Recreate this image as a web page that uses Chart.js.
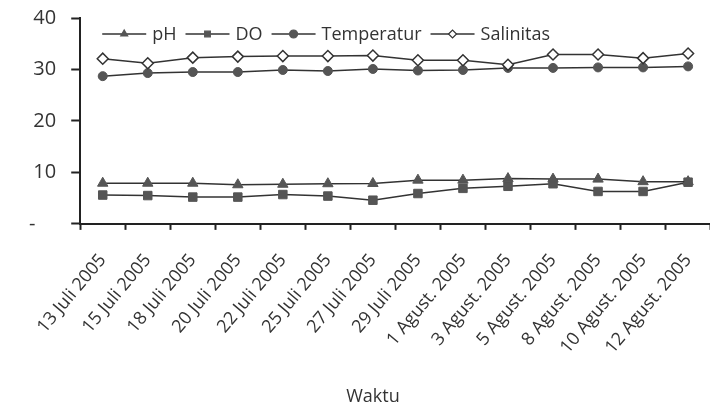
<!DOCTYPE html>
<html>
<head>
<meta charset="utf-8">
<script src="https://cdn.jsdelivr.net/npm/chart.js@4.4.0/dist/chart.umd.min.js"></script>
<style>
  html, body { margin: 0; padding: 0; background: #fff; overflow: hidden; }
  #wrap { width: 725px; height: 411px; position: relative; }
</style>
</head>
<body>
<div id="wrap"><canvas id="kualitasAir"></canvas></div>
<script>
var tanggal = ["13 Juli 2005", "15 Juli 2005", "18 Juli 2005", "20 Juli 2005", "22 Juli 2005",
  "25 Juli 2005", "27 Juli 2005", "29 Juli 2005", "1 Agust. 2005", "3 Agust. 2005",
  "5 Agust. 2005", "8 Agust. 2005", "10 Agust. 2005", "12 Agust. 2005"];
var dataPH = [7.9, 7.9, 7.9, 7.6, 7.7, 7.8, 7.85, 8.5, 8.5, 8.8, 8.7, 8.7, 8.2, 8.2];
var dataDO = [5.6, 5.5, 5.2, 5.2, 5.7, 5.4, 4.6, 5.9, 6.9, 7.3, 7.8, 6.3, 6.3, 8.1];
var dataTemperatur = [28.7, 29.3, 29.5, 29.5, 29.9, 29.7, 30.1, 29.8, 29.9, 30.3, 30.3, 30.4, 30.4, 30.6];
var dataSalinitas = [32.1, 31.2, 32.3, 32.5, 32.6, 32.6, 32.7, 31.8, 31.8, 30.9, 32.9, 32.9, 32.2, 33.1];
var judulX = "Waktu";

var garis = "#333333";
var isi = "#555555";
var fontNama = "'Open Sans', 'DejaVu Sans', sans-serif";

// legend drawn inside the plot area, line + marker like the original
var legendaDalam = {
  id: 'legendaDalam',
  afterDraw: function (chart) {
    var ctx = chart.ctx;
    var area = chart.chartArea;
    var x = area.left + 22;
    var y = area.top + 16;
    ctx.save();
    ctx.font = "18px " + fontNama;
    ctx.textBaseline = "middle";
    chart.data.datasets.forEach(function (ds) {
      ctx.strokeStyle = garis;
      ctx.lineWidth = 1.5;
      ctx.beginPath();
      ctx.moveTo(x, y);
      ctx.lineTo(x + 44, y);
      ctx.stroke();
      ctx.fillStyle = ds.pointBackgroundColor;
      ctx.strokeStyle = ds.pointBorderColor;
      ctx.lineWidth = 1.2;
      Chart.helpers.drawPoint(ctx, { pointStyle: ds.pointStyle, radius: 4, rotation: 0, borderWidth: 1.2 }, x + 22, y);
      x += 50;
      ctx.fillStyle = "#333";
      ctx.fillText(ds.label, x, y + 1);
      x += ctx.measureText(ds.label).width + 9;
    });
    // axis title
    ctx.font = "18px " + fontNama;
    ctx.textAlign = "center";
    ctx.fillStyle = "#333";
    ctx.fillText(judulX, 373, 397);
    ctx.restore();
  }
};

new Chart(document.getElementById("kualitasAir").getContext('2d'), {
  type: 'line',
  data: {
    labels: tanggal,
    datasets: [{
      label: "pH",
      data: dataPH,
      borderColor: garis,
      borderWidth: 1.5,
      pointStyle: 'triangle',
      pointRadius: 6,
      pointBackgroundColor: isi,
      pointBorderColor: isi,
      pointBorderWidth: 1,
      lineTension: 0
    }, {
      label: "DO",
      data: dataDO,
      borderColor: garis,
      borderWidth: 1.5,
      pointStyle: 'rect',
      pointRadius: 6,
      pointBackgroundColor: isi,
      pointBorderColor: isi,
      pointBorderWidth: 1,
      lineTension: 0
    }, {
      label: "Temperatur",
      data: dataTemperatur,
      borderColor: garis,
      borderWidth: 1.5,
      pointStyle: 'circle',
      pointRadius: 4.5,
      pointBackgroundColor: isi,
      pointBorderColor: isi,
      pointBorderWidth: 1,
      lineTension: 0
    }, {
      label: "Salinitas",
      data: dataSalinitas,
      order: -1,
      borderColor: garis,
      borderWidth: 1.5,
      pointStyle: 'rectRot',
      pointRadius: 5.5,
      pointBackgroundColor: "#ffffff",
      pointBorderColor: garis,
      pointBorderWidth: 1.5,
      lineTension: 0
    }]
  },
  options: {
    responsive: true,
    maintainAspectRatio: false,
    animation: false,
    layout: {
      padding: { left: 14, right: 10, top: 18, bottom: 33 }
    },
    scales: {
      x: {
        offset: true,
        grid: {
          display: true,
          offset: true,
          drawOnChartArea: false,
          drawTicks: true,
          tickLength: 6,
          tickWidth: 2,
          tickColor: "#222"
        },
        border: { display: true, color: "#222", width: 2 },
        ticks: {
          autoSkip: false,
          minRotation: 50,
          maxRotation: 50,
          padding: 20,
          color: "#333",
          font: { family: fontNama, size: 18 }
        }
      },
      y: {
        min: 0,
        max: 40,
        grid: {
          display: true,
          drawOnChartArea: false,
          drawTicks: true,
          tickLength: 9,
          tickWidth: 2,
          tickColor: "#222"
        },
        border: { display: true, color: "#222", width: 2 },
        ticks: {
          stepSize: 10,
          padding: 15,
          color: "#333",
          font: { family: fontNama, size: 20 },
          callback: function (value) {
            return value === 0 ? "-    " : value;
          }
        },
        afterFit: function (scale) {
          // label padding would otherwise push the plot down
          scale.paddingTop = 0;
          scale.paddingBottom = 0;
        }
      }
    },
    plugins: {
      legend: { display: false },
      tooltip: { enabled: false }
    }
  },
  plugins: [legendaDalam]
});
</script>
</body>
</html>
